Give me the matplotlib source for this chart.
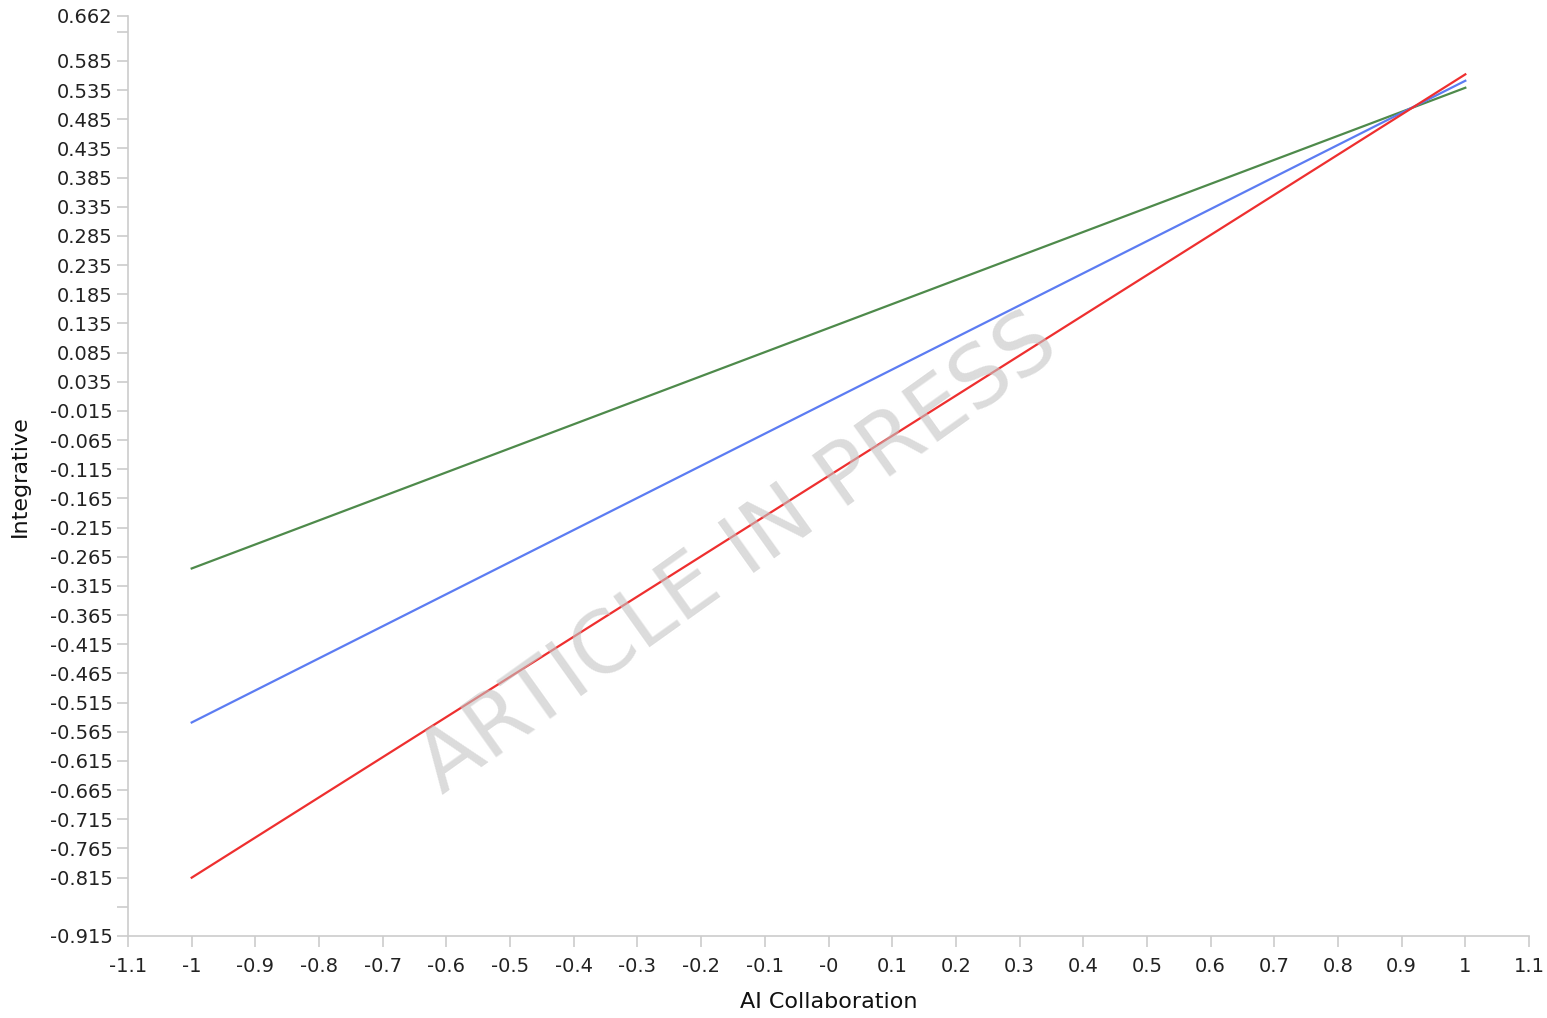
import numpy as np
import matplotlib.pyplot as plt

# data
x_ends = [-1, 1]
green_y = [-0.285, 0.539]
blue_y = [-0.549, 0.551]
red_y = [-0.815, 0.562]

x_ticks = np.round(np.arange(-1.1, 1.1001, 0.1), 1)
x_labels = ['-0' if v == 0 else f'{v:g}' for v in x_ticks]
y_min, y_max = -0.915, 0.662
y_ticks = [y_min] + list(np.round(np.arange(-0.865, 0.6351, 0.05), 3)) + [y_max]
y_labels = ['' if v in (-0.865, 0.635) else f'{v:.3f}' for v in y_ticks]

plt.rcParams['font.family'] = ['DejaVu Sans']
fig = plt.figure(figsize=(15.47, 10.18), dpi=100)
ax = fig.add_axes([128/1547, 1 - 936/1018, (1529 - 128)/1547, (936 - 16)/1018])

ax.plot(x_ends, green_y, color='#4e8a4b', lw=1.6)
ax.plot(x_ends, blue_y, color='#5c7cf2', lw=1.6)
ax.plot(x_ends, red_y, color='#ee2f2f', lw=1.6)

ax.set_xlim(-1.1, 1.1)
ax.set_ylim(y_min, y_max)
ax.set_xticks(x_ticks)
ax.set_xticklabels(x_labels)
ax.set_yticks(y_ticks)
ax.set_yticklabels(y_labels)

for s in ['top', 'right']:
    ax.spines[s].set_visible(False)
for s in ['left', 'bottom']:
    ax.spines[s].set_color('#cccccc')
    ax.spines[s].set_linewidth(1.2)
ax.tick_params(colors='#cccccc', labelcolor='#222222', length=8, width=1.2, labelsize=14)
ax.tick_params(axis='x', pad=7)
ax.tick_params(axis='y', pad=3)

ax.set_xlabel('AI Collaboration', fontsize=16, color='#111111', labelpad=12)
ax.set_ylabel('Integrative', fontsize=16, color='#111111', labelpad=14)

# watermark, semi transparent on top of the lines
fig.text(442/1547, 1 - 795/1018, 'ARTICLE IN PRESS', fontsize=61, color='#c4c4c4',
         alpha=0.6, rotation=35.5, rotation_mode='anchor', ha='left', va='baseline', zorder=5)

fig.savefig('out.png', dpi=100)
